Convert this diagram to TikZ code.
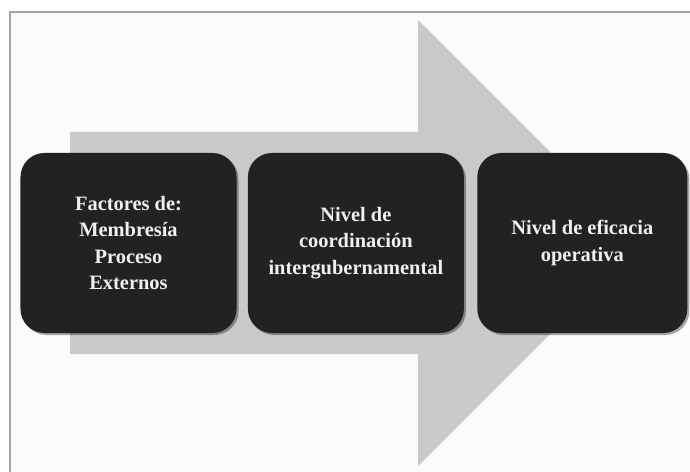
\documentclass[tikz,border=0pt]{standalone}
\usepackage{fontspec}
\setmainfont{Liberation Serif}
\usetikzlibrary{positioning,shadows}
\definecolor{boxfill}{RGB}{36,33,34}
\definecolor{arrowgray}{RGB}{200,201,203}
\definecolor{pagebg}{RGB}{251,251,251}
\definecolor{framegray}{RGB}{165,165,165}
\begin{document}
\begin{tikzpicture}[x=1bp,y=-1bp,
  stage/.style={rectangle, rounded corners=24bp, fill=boxfill, text=white!94!black,
    minimum width=216bp, minimum height=180bp, align=center,
    font=\fontsize{20.5}{26.5}\selectfont\bfseries,
    drop shadow={shadow xshift=2bp, shadow yshift=-2bp, fill=black, opacity=0.35}}]
\useasboundingbox (0,0) rectangle (690,472);
\fill[pagebg] (10,12) rectangle (690,472);
\draw[framegray, line width=1.5bp] (10,472) -- (10,12) -- (690,12);
% big arrow
\fill[arrowgray] (70,132) -- (418,132) -- (418,20) -- (641,243) -- (418,466) -- (418,354) -- (70,354) -- cycle;
\node[stage] (factores) at (128.5,243) {Factores de:\\Membresía\\Proceso\\Externos};
\node[stage, right=11bp of factores] (coordinacion) {Nivel de\\coordinación\\intergubernamental};
\node[stage, right=13bp of coordinacion, minimum width=210bp] (eficacia) {Nivel de eficacia\\operativa};
\end{tikzpicture}
\end{document}
